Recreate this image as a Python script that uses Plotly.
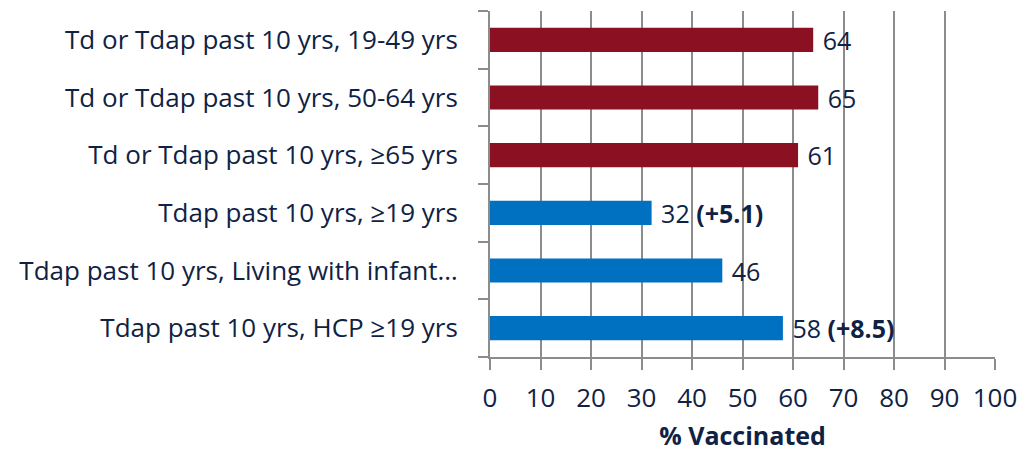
import plotly.graph_objects as go

categories = [
    "Td or Tdap past 10 yrs, 19-49 yrs",
    "Td or Tdap past 10 yrs, 50-64 yrs",
    "Td or Tdap past 10 yrs, ≥65 yrs",
    "Tdap past 10 yrs, ≥19 yrs",
    "Tdap past 10 yrs, Living with infant…",
    "Tdap past 10 yrs, HCP ≥19 yrs",
]
values = [64, 65, 61, 32, 46, 58]
changes = ["", "", "", "(+5.1)", "", "(+8.5)"]
colors = ["#8B1021", "#8B1021", "#8B1021", "#0070C0", "#0070C0", "#0070C0"]
x_ticks = [0, 10, 20, 30, 40, 50, 60, 70, 80, 90, 100]

text_color = "#102244"
labels = [f"\u00a0{v} <b>{c}</b>" if c else f"\u00a0{v}" for v, c in zip(values, changes)]

fig = go.Figure(go.Bar(
    y=categories, x=values, orientation="h",
    marker=dict(color=colors, line=dict(width=0)),
    text=labels, textposition="outside", cliponaxis=False,
    constraintext="none",
    textfont=dict(size=25, color=text_color, family="Open Sans"),
))

fig.update_layout(
    width=1021, height=452,
    margin=dict(l=490, r=26, t=11, b=95),
    paper_bgcolor="white", plot_bgcolor="white",
    bargap=0.58, showlegend=False,
    font=dict(family="Open Sans", color=text_color, size=20),
    xaxis=dict(
        range=[0, 100], tickvals=x_ticks, showgrid=True,
        gridcolor="#8C8C8C", gridwidth=2,
        ticks="outside", ticklen=11, tickcolor="#8C8C8C", tickwidth=2,
        showline=True, linecolor="#8C8C8C", linewidth=2,
        tickfont=dict(size=26, color=text_color),
        ticklabelstandoff=6,
        title=dict(text="<b>% Vaccinated</b>", font=dict(size=25, color=text_color), standoff=15),
        zeroline=False, automargin=False,
    ),
    yaxis=dict(
        categoryorder="array", categoryarray=categories[::-1],
        showline=True, linecolor="#8C8C8C", linewidth=2,
        ticks="outside", tickson="boundaries", ticklen=10, tickcolor="#8C8C8C", tickwidth=2,
        tickfont=dict(size=26, color=text_color),
        ticklabelstandoff=25,
        showgrid=False, automargin=False,
    ),
)

fig.write_html("out.html", config={"displayModeBar": False},
               post_script="document.body.style.margin='0';")
